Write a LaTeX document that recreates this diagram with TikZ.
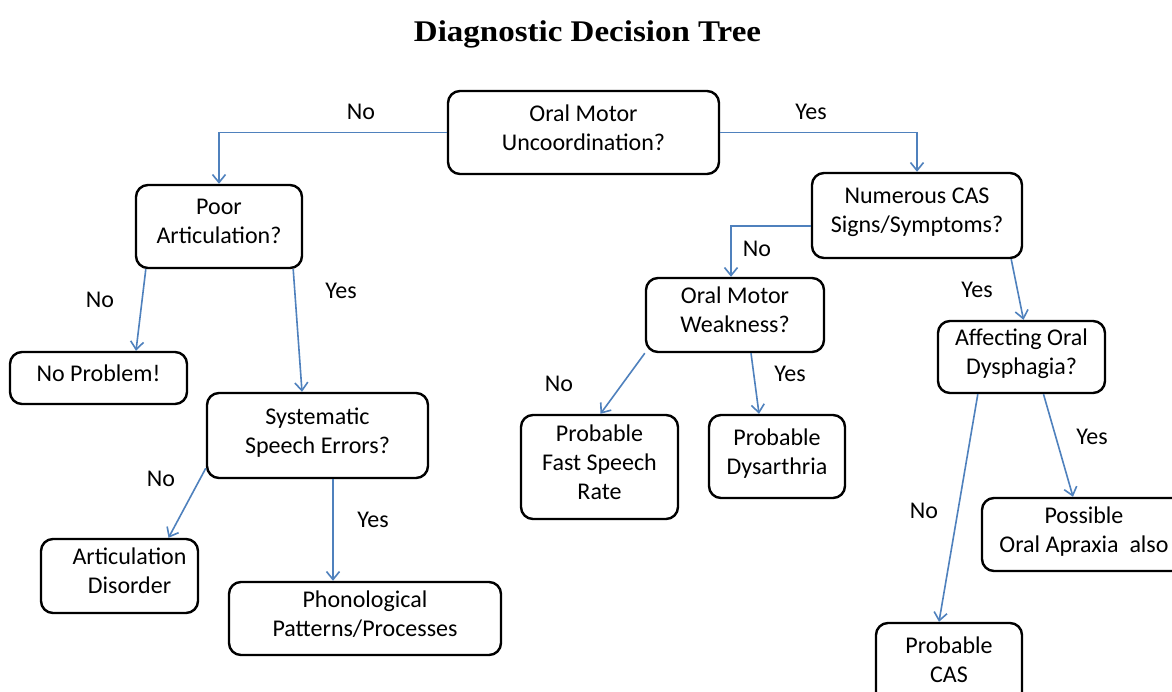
\documentclass[tikz,border=0pt]{standalone}
\usepackage{fontspec}
\setmainfont{Carlito}
\newfontfamily\titlefont{Liberation Serif}
\usetikzlibrary{arrows.meta,calc}
\definecolor{conncol}{RGB}{79,129,189}
\begin{document}
\begin{tikzpicture}[x=1pt,y=-1pt,
  box/.style={draw=black, line width=2.4pt, rounded corners=12pt, align=center, inner sep=0pt, text depth=10pt, font=\fontsize{24}{29}\selectfont},
  arr/.style={draw=conncol, line width=1.6pt, -{Straight Barb[length=8pt,width=13pt]}},
  lbl/.style={font=\fontsize{24}{29}\selectfont, inner sep=0pt}]
\clip (0,0) rectangle (1172,692);
\fill[white] (0,0) rectangle (1172,692);
% title
\node[anchor=base, inner sep=0pt] (title) at (587.5,42) {\scalebox{1.1}[1]{\fontsize{30}{36}\titlefont\bfseries Diagnostic Decision Tree}};
% boxes
\node[box, minimum width=271pt, minimum height=83pt] (root) at (583.5,132.5) {Oral Motor\\Uncoordination?};
\node[box, minimum width=166pt, minimum height=83pt] (poor) at (219,226.5) {Poor\\Articulation?};
\node[box, minimum width=177pt, minimum height=52pt] (noprob) at (98.5,378) {No Problem!};
\node[box, minimum width=221pt, minimum height=85pt] (syst) at (317.5,435.5) {Systematic\\Speech Errors?};
\node[box, minimum width=157pt, minimum height=74pt] (artic) at (119.5,576) {\hspace*{20pt}Articulation\\\hspace*{20pt}Disorder};
\node[box, minimum width=272pt, minimum height=73pt] (phon) at (365,618.5) {Phonological\\Patterns/Processes};
\node[box, minimum width=210pt, minimum height=85pt] (num) at (917,215.5) {Numerous CAS\\Signs/Symptoms?};
\node[box, minimum width=178pt, minimum height=74pt] (omw) at (735,315) {Oral Motor\\Weakness?};
\node[box, minimum width=157pt, minimum height=104pt] (fast) at (599.5,467) {Probable\\Fast Speech\\Rate};
\node[box, minimum width=136pt, minimum height=83pt] (dys) at (777,456.5) {Probable\\Dysarthria};
\node[box, minimum width=167pt, minimum height=72pt] (aff) at (1021.5,357) {Affecting Oral\\Dysphagia?};
\node[box, minimum width=204pt, minimum height=73pt] (poss) at (1084,534.5) {Possible\\Oral Apraxia\ \ also};
\node[box, minimum width=146pt, minimum height=83pt] (cas) at (949,664.5) {Probable\\CAS};
% connectors
\draw[arr] (root.west) -| (poor.north);
\draw[arr] (root.east) -| (num.north);
\draw[arr] ($(poor.south west)+(11,0)$) -- ($(noprob.north)+(37.5,0)$);
\draw[arr] ($(poor.south east)+(-10,0)$) -- ($(syst.north)+(-15.5,0)$);
\draw[arr] ($(syst.south west)+(0,-11)$) -- ($(artic.north)+(49,0)$);
\draw[arr] ($(syst.south)+(15.5,0)$) -- ($(phon.north)+(-32,0)$);
\coordinate (numw) at ($(num.west)+(0,10.5)$);
\draw[arr] (numw) -| ($(omw.north)+(-4,0)$);
\draw[arr] ($(num.south east)+(-12,0)$) -- ($(aff.north)+(2,0)$);
\draw[arr] (omw.south west) -- ($(fast.north)+(1,0)$);
\draw[arr] ($(omw.south)+(16,0)$) -- ($(dys.north)+(-18,0)$);
\draw[arr] ($(aff.south west)+(41,0)$) -- ($(cas.north)+(-10,0)$);
\draw[arr] ($(aff.south)+(22,0)$) -- ($(poss.north)+(-11,0)$);
% labels
\node[lbl] (l1) at (361,112) {No};
\node[lbl] (l2) at (811,112) {Yes};
\node[lbl] (l3) at (100,300) {No};
\node[lbl] (l4) at (341,291) {Yes};
\node[lbl] (l5) at (161,479) {No};
\node[lbl] (l6) at (373,520) {Yes};
\node[lbl] (l7) at (757,249) {No};
\node[lbl] (l8) at (977,290) {Yes};
\node[lbl] (l9) at (559,384) {No};
\node[lbl] (l10) at (790,374) {Yes};
\node[lbl] (l11) at (924,511) {No};
\node[lbl] (l12) at (1092,437) {Yes};
\end{tikzpicture}
\end{document}
